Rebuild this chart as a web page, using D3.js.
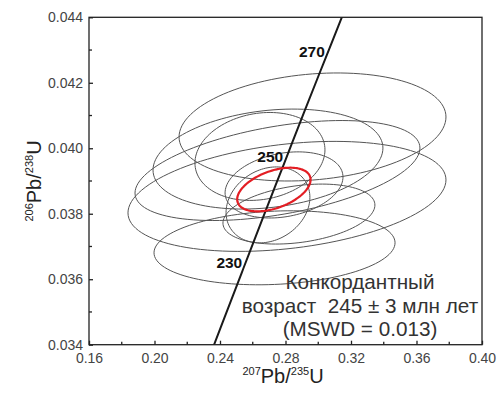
<!DOCTYPE html>
<html>
<head>
<meta charset="utf-8">
<script src="https://cdn.jsdelivr.net/npm/d3@7"></script>
<style>
  body { margin: 0; background: #fff; }
</style>
</head>
<body>
<div id="chart"></div>
<script>
// tick values
var xTicks = [0.16, 0.20, 0.24, 0.28, 0.32, 0.36, 0.40];
var xMinor = [0.18, 0.22, 0.26, 0.30, 0.34, 0.38];
var yTicks = [0.034, 0.036, 0.038, 0.040, 0.042, 0.044];
var yMinor = [0.035, 0.037, 0.039, 0.041, 0.043];

// concordia points (age, 207Pb/235U, 206Pb/238U)
var concAge = [210, 220, 230, 240, 250, 260, 270, 280, 290];
var concX = [0.2295, 0.2419, 0.2542, 0.2666, 0.2792, 0.2918, 0.3046, 0.3175, 0.3306];
var concY = [0.03310, 0.03472, 0.03632, 0.03793, 0.03954, 0.04116, 0.04277, 0.04439, 0.04602];
var concLabels = [230, 250, 270];

// analysis error ellipses: centre, half widths, correlation
var ellCx  = [0.2965, 0.2809, 0.2751, 0.2693, 0.2733, 0.2644, 0.2791, 0.2882, 0.2693];
var ellCy  = [0.04065, 0.03853, 0.03932, 0.03967, 0.03696, 0.03975, 0.03888, 0.03799, 0.03827];
var ellSx  = [0.0815, 0.0971, 0.0870, 0.0702, 0.0736, 0.0397, 0.0360, 0.0464, 0.0256];
var ellSy  = [0.00165, 0.00168, 0.001527, 0.001527, 0.00113, 0.001343, 0.00101, 0.000916, 0.00116];
var ellRho = [0.185, 0.30, 0.45, 0.22, 0.135, 0.15, 0.24, 0.30, 0.20];

// concordia age ellipse
var ageEll = {cx: 0.2729, cy: 0.03874, sx: 0.02241, sy: 0.000666, rho: 0.45};
var noteLines = ["Конкордантный", "возраст  245 ± 3 млн лет", "(MSWD = 0.013)"];

var width = 497, height = 394;
var margin = {top: 17.3, right: 15, bottom: 49.3, left: 89};

var svg = d3.select('#chart').append('svg')
  .attr('width', width)
  .attr('height', height)
  .attr('font-family', 'Liberation Sans, Arial, sans-serif');

svg.append('rect').attr('width', width).attr('height', height).attr('fill', '#fff');

var x = d3.scaleLinear().domain([0.16, 0.40]).range([margin.left, width - margin.right]);
var y = d3.scaleLinear().domain([0.034, 0.044]).range([height - margin.bottom, margin.top]);

var defs = svg.append('defs');
defs.append('clipPath').attr('id', 'clip')
  .append('rect')
  .attr('x', x(0.16)).attr('y', y(0.044))
  .attr('width', x(0.40) - x(0.16)).attr('height', y(0.034) - y(0.044));

var plot = svg.append('g').attr('clip-path', 'url(#clip)');

function ellipsePts(cx, cy, sx, sy, rho) {
  var pts = [];
  for (var i = 0; i <= 120; i++) {
    var t = i / 120 * 2 * Math.PI;
    pts.push([cx + sx * Math.cos(t), cy + sy * (rho * Math.cos(t) + Math.sqrt(1 - rho * rho) * Math.sin(t))]);
  }
  return pts;
}

var line = d3.line().x(d => x(d[0])).y(d => y(d[1]));

plot.append('g')
  .selectAll('path')
  .data(ellCx.map((c, i) => ellipsePts(c, ellCy[i], ellSx[i], ellSy[i], ellRho[i])))
  .join('path')
  .attr('d', line)
  .attr('fill', 'none')
  .attr('stroke', '#555')
  .attr('stroke-width', 1);

plot.append('path')
  .datum(concX.map((c, i) => [c, concY[i]]))
  .attr('d', d3.line().x(d => x(d[0])).y(d => y(d[1])).curve(d3.curveMonotoneX))
  .attr('fill', 'none')
  .attr('stroke', '#1a1a1a')
  .attr('stroke-width', 2);

plot.append('path')
  .datum(ellipsePts(ageEll.cx, ageEll.cy, ageEll.sx, ageEll.sy, ageEll.rho))
  .attr('d', line)
  .attr('fill', 'none')
  .attr('stroke', '#e31e24')
  .attr('stroke-width', 2.2);

// age labels on concordia
svg.append('g')
  .selectAll('text')
  .data(concLabels)
  .join('text')
  .attr('x', d => x(concX[concAge.indexOf(d)]) - 1)
  .attr('y', d => y(concY[concAge.indexOf(d)]) - 1)
  .attr('text-anchor', 'end')
  .attr('font-size', '15.5px')
  .attr('font-weight', 700)
  .attr('fill', '#111')
  .text(d => d);

// frame
svg.append('rect')
  .attr('x', x(0.16)).attr('y', y(0.044))
  .attr('width', x(0.40) - x(0.16)).attr('height', y(0.034) - y(0.044))
  .attr('fill', 'none')
  .attr('stroke', '#222')
  .attr('stroke-width', 1.3);

var xAxis = g => g
  .attr('transform', `translate(0,${y(0.034)})`)
  .call(d3.axisBottom(x).tickValues(xTicks).tickSize(-4).tickPadding(8).tickFormat(d3.format('.2f')))
  .call(g => g.select('.domain').remove())
  .call(g => g.selectAll('.tick line').attr('stroke', '#222').attr('stroke-width', 1.3))
  .call(g => g.selectAll('.tick text')
    .attr('fill', '#444')
    .attr('font-family', 'Liberation Sans, Arial, sans-serif')
    .attr('font-size', '14px'));

var yAxis = g => g
  .attr('transform', `translate(${x(0.16)},0)`)
  .call(d3.axisLeft(y).tickValues(yTicks).tickSize(-4).tickPadding(6).tickFormat(d3.format('.3f')))
  .call(g => g.select('.domain').remove())
  .call(g => g.selectAll('.tick line').attr('stroke', '#222').attr('stroke-width', 1.3))
  .call(g => g.selectAll('.tick text')
    .attr('fill', '#444')
    .attr('font-family', 'Liberation Sans, Arial, sans-serif')
    .attr('font-size', '14px'));

svg.append('g').call(xAxis);
svg.append('g').call(yAxis);

// minor ticks
svg.append('g').selectAll('line').data(xMinor).join('line')
  .attr('x1', d => x(d)).attr('x2', d => x(d))
  .attr('y1', y(0.034)).attr('y2', y(0.034) - 3)
  .attr('stroke', '#222').attr('stroke-width', 1.3);
svg.append('g').selectAll('line').data(yMinor).join('line')
  .attr('x1', x(0.16)).attr('x2', x(0.16) + 3)
  .attr('y1', d => y(d)).attr('y2', d => y(d))
  .attr('stroke', '#222').attr('stroke-width', 1.3);

// axis titles
var xt = svg.append('text')
  .attr('x', 283).attr('y', 383)
  .attr('text-anchor', 'middle')
  .attr('fill', '#222')
  .attr('font-size', '20px');
xt.append('tspan').attr('font-size', '11px').attr('dy', '-8').text('207');
xt.append('tspan').attr('dy', '8').text('Pb/');
xt.append('tspan').attr('font-size', '11px').attr('dy', '-8').text('235');
xt.append('tspan').attr('dy', '8').text('U');

var yt = svg.append('text')
  .attr('transform', 'translate(41,181) rotate(-90)')
  .attr('text-anchor', 'middle')
  .attr('fill', '#222')
  .attr('font-size', '20px');
yt.append('tspan').attr('font-size', '11px').attr('dy', '-8').text('206');
yt.append('tspan').attr('dy', '8').text('Pb/');
yt.append('tspan').attr('font-size', '11px').attr('dy', '-8').text('238');
yt.append('tspan').attr('dy', '8').text('U');

// result note
svg.append('g')
  .selectAll('text')
  .data(noteLines)
  .join('text')
  .attr('x', 360)
  .attr('y', (d, i) => 289 + i * 23.7)
  .attr('text-anchor', 'middle')
  .attr('fill', '#333')
  .attr('font-size', '20.7px')
  .style('white-space', 'pre')
  .text(d => d);
</script>
</body>
</html>
